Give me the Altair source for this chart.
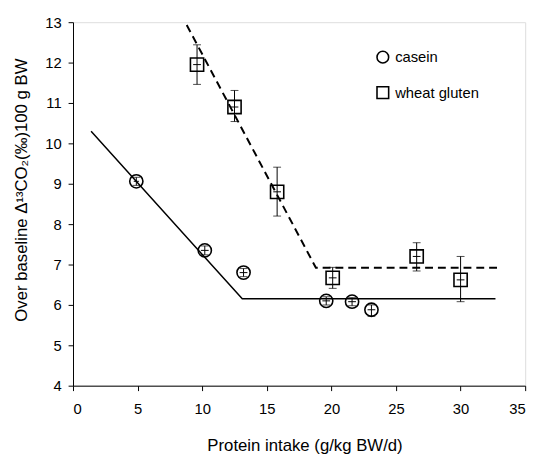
import altair as alt
import pandas as pd

# ---- data ----
casein_x = [4.9, 10.2, 13.2, 19.6, 21.6, 23.1]
casein_y = [9.06, 7.35, 6.80, 6.10, 6.08, 5.88]
casein_lo = [8.96, 7.24, 6.70, 6.00, 5.98, 5.72]
casein_hi = [9.16, 7.46, 6.90, 6.20, 6.18, 6.00]
casein_xerr = [0.2, 0.3, 0.3, 0.3, 0.3, 0.3]

gluten_x = [9.6, 12.5, 15.8, 20.1, 26.6, 30.0]
gluten_y = [11.95, 10.90, 8.80, 6.67, 7.20, 6.62]
gluten_lo = [11.46, 10.54, 8.20, 6.41, 6.84, 6.08]
gluten_hi = [12.44, 11.31, 9.41, 6.93, 7.54, 7.20]
gluten_xerr = [0.3, 0.3, 0.3, 0.3, 0.3, 0.3]

casein_fit_x = [1.4, 13.1, 32.7]
casein_fit_y = [10.30, 6.15, 6.15]
gluten_fit_x = [8.8, 18.8, 33.1]
gluten_fit_y = [12.93, 6.92, 6.92]

series = ["casein", "wheat gluten"]
x_ticks = [0, 5, 10, 15, 20, 25, 30, 35]
y_ticks = [4, 5, 6, 7, 8, 9, 10, 11, 12, 13]

pts = pd.DataFrame({
    "x": casein_x + gluten_x,
    "y": casein_y + gluten_y,
    "lo": casein_lo + gluten_lo,
    "hi": casein_hi + gluten_hi,
    "xlo": [a - e for a, e in zip(casein_x, casein_xerr)] + [a - e for a, e in zip(gluten_x, gluten_xerr)],
    "xhi": [a + e for a, e in zip(casein_x, casein_xerr)] + [a + e for a, e in zip(gluten_x, gluten_xerr)],
    "series": [series[0]] * len(casein_x) + [series[1]] * len(gluten_x),
})
fit_casein = pd.DataFrame({"x": casein_fit_x, "y": casein_fit_y, "order": [0, 1, 2]})
fit_gluten = pd.DataFrame({"x": gluten_fit_x, "y": gluten_fit_y, "order": [0, 1, 2]})

xs = alt.Scale(domain=[0, 35], nice=False, zero=False)
ys = alt.Scale(domain=[4, 13], nice=False, zero=False)

axis_common = dict(
    grid=False, domainColor="black", tickColor="black", labelColor="black",
    titleColor="black", labelFont="Liberation Sans", titleFont="Liberation Sans",
    labelFontSize=15, titleFontSize=17, titleFontWeight="normal", tickSize=5,
    domainWidth=1, tickWidth=1, titleBaseline="alphabetic",
)

X = alt.X("x:Q", scale=xs, axis=alt.Axis(values=x_ticks, title="Protein intake (g/kg BW/d)",
                                         labelPadding=11, titleX=235, titleY=66,
                                         titleAlign="center", **axis_common))
Y = alt.Y("y:Q", scale=ys, axis=alt.Axis(values=y_ticks, title="Over baseline Δ¹³CO₂(‰)100 g BW",
                                         labelPadding=7, titleX=-47, titleY=170,
                                         titleAlign="center", titleAngle=270, **axis_common))

line_c = alt.Chart(fit_casein).mark_line(color="black", strokeWidth=1.5).encode(x=X, y=Y, order="order:Q")
line_g = alt.Chart(fit_gluten).mark_line(color="black", strokeWidth=2, strokeDash=[8, 5]).encode(
    x="x:Q", y="y:Q", order="order:Q")

vbar = alt.Chart(pts).mark_rule(color="black", strokeWidth=1).encode(x="x:Q", y="lo:Q", y2="hi:Q")
caps_lo = alt.Chart(pts).mark_tick(color="black", orient="horizontal", size=8, thickness=1).encode(x="x:Q", y="lo:Q")
caps_hi = alt.Chart(pts).mark_tick(color="black", orient="horizontal", size=8, thickness=1).encode(x="x:Q", y="hi:Q")
hbar = alt.Chart(pts).mark_rule(color="black", strokeWidth=1).encode(x="xlo:Q", x2="xhi:Q", y="y:Q")

points = alt.Chart(pts).mark_point(filled=False, color="black", strokeWidth=1.6, opacity=1).encode(
    x="x:Q", y="y:Q",
    shape=alt.Shape("series:N", scale=alt.Scale(domain=series, range=["circle", "square"]),
                    legend=alt.Legend(title=None, orient="none", legendX=307, legendY=28,
                                      labelFont="Liberation Sans", labelFontSize=15, labelColor="black",
                                      symbolSize=140, symbolStrokeColor="black", symbolStrokeWidth=1.6,
                                      symbolFillColor="transparent", symbolOpacity=1,
                                      rowPadding=17, labelOffset=5, padding=0)),
    size=alt.value(180),
)

chart = alt.layer(line_c, line_g, vbar, caps_lo, caps_hi, hbar, points).properties(
    width=459, height=369,
    autosize=alt.AutoSizeParams(type="none"),
    padding={"left": 66, "top": 11, "right": 12, "bottom": 70},
).configure_view(stroke=None).configure(background="white")

chart.save("out.html", embed_options={"renderer": "svg", "actions": False})
